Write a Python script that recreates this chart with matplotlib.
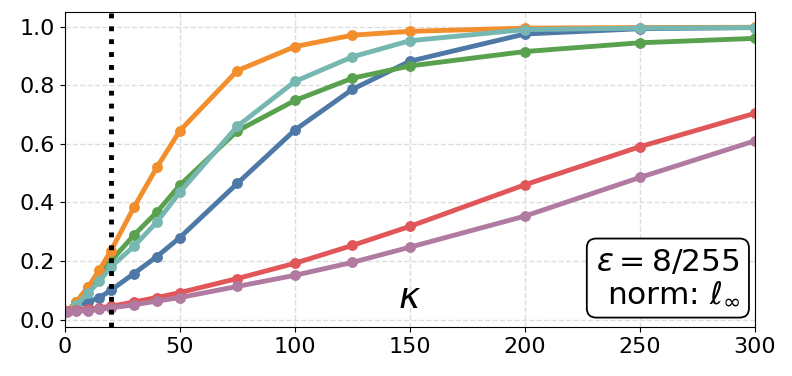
import numpy as np
import matplotlib.pyplot as plt

kappa = [1, 5, 10, 15, 20, 30, 40, 50, 75, 100, 125, 150, 200, 250, 300]

blue = [0.03, 0.045, 0.06, 0.075, 0.10, 0.157, 0.215, 0.28, 0.465, 0.647, 0.786, 0.882, 0.975, 0.993, 0.997]
green = [0.03, 0.06, 0.11, 0.15, 0.20, 0.288, 0.367, 0.459, 0.644, 0.748, 0.824, 0.866, 0.915, 0.945, 0.96]
orange = [0.03, 0.06, 0.11, 0.17, 0.235, 0.383, 0.52, 0.645, 0.85, 0.932, 0.971, 0.984, 0.995, 0.997, 0.998]
teal = [0.03, 0.05, 0.09, 0.13, 0.18, 0.25, 0.333, 0.435, 0.66, 0.813, 0.897, 0.952, 0.99, 0.995, 0.997]
red = [0.03, 0.033, 0.035, 0.04, 0.045, 0.06, 0.075, 0.092, 0.14, 0.192, 0.253, 0.318, 0.46, 0.59, 0.704]
purple = [0.025, 0.028, 0.03, 0.035, 0.04, 0.05, 0.063, 0.075, 0.113, 0.151, 0.195, 0.247, 0.353, 0.485, 0.61]

series = [
    (blue, "#4e79a7"),
    (green, "#59a14f"),
    (orange, "#f28e2b"),
    (teal, "#76b7b2"),
    (red, "#e15759"),
    (purple, "#b07aa1"),
]

fig = plt.figure(figsize=(7.92, 3.76), dpi=100)
ax = fig.add_axes([0.082, 0.130, 0.871, 0.838])

for ys, c in series:
    ax.plot(kappa, ys, color=c, linewidth=3.5, marker="o", markersize=6.8)

ax.axvline(20, color="black", linestyle=":", linewidth=3.5, zorder=5)

ax.set_xlim(0, 300)
ax.set_ylim(-0.026, 1.05)
ax.set_xticks([0, 50, 100, 150, 200, 250, 300])
ax.set_yticks([0.0, 0.2, 0.4, 0.6, 0.8, 1.0])
ax.tick_params(labelsize=16)
ax.grid(True, linestyle="--", color="#dddddd", linewidth=1)
ax.set_axisbelow(True)

ax.set_xlabel(r"$\kappa$", fontsize=26)
ax.xaxis.set_label_coords(0.5, 0.145)

ax.text(0.978, 0.06, r"$\varepsilon = 8/255$" + "\n" + r"norm: $\ell_\infty$",
        transform=ax.transAxes, ha="right", va="bottom", multialignment="right",
        fontsize=22.5, linespacing=1.1,
        bbox=dict(boxstyle="round,pad=0.3", facecolor="white", edgecolor="black", linewidth=1.3))

fig.savefig("out.png", dpi=100)
